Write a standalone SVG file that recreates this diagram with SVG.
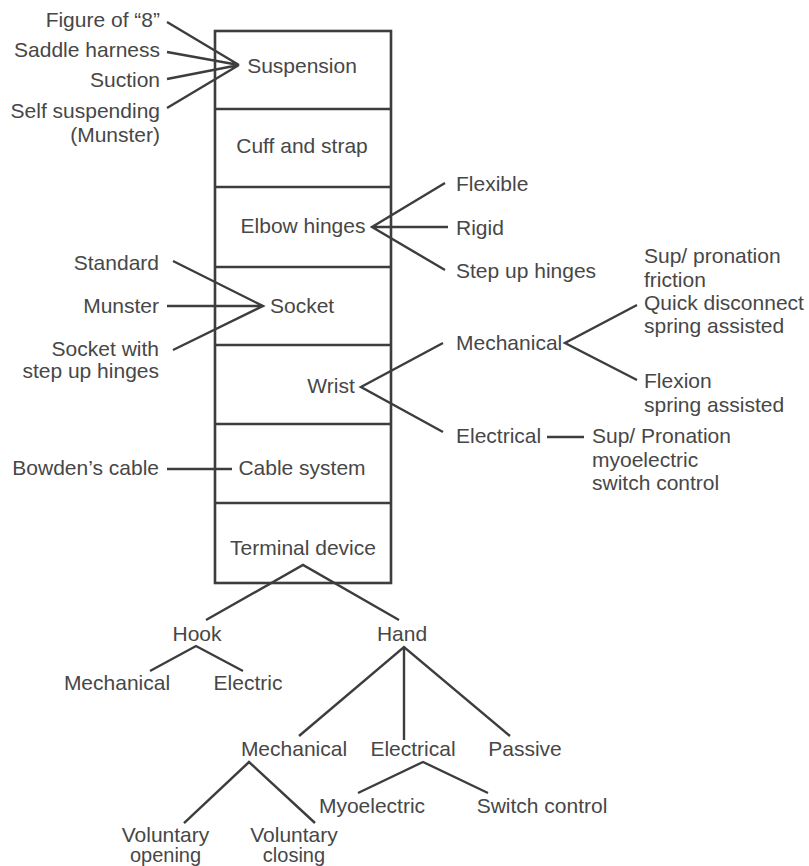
<svg xmlns="http://www.w3.org/2000/svg" width="809" height="866" viewBox="0 0 809 866">
<style>
text{font-family:"Liberation Sans",Arial,sans-serif;font-size:21px;fill:#474747}
.e{text-anchor:end}.m{text-anchor:middle}
.s{font-size:20px}
.ln{stroke:#3d3d3d;stroke-width:2.4;fill:none}
.bx{stroke:#3d3d3d;stroke-width:2.6;fill:#fff}
</style>
<rect width="809" height="866" fill="#fff"/>
<g id="box">
<rect class="bx" x="215" y="31" width="176" height="552"/>
<path class="ln" d="M215 109H391M215 187H391M215 267H391M215 345H391M215 424H391M215 503H391"/>
</g>
<g id="connectors">
<path class="ln" d="M167 22L239 65M167 52L239 65M167 79L239 65M167 108L239 65"/>
<path class="ln" d="M445 183L372 227L445 270M372 227H448"/>
<path class="ln" d="M173 261L263 306L173 350M167 306H263"/>
<path class="ln" d="M443 343L361 387L443 432"/>
<path class="ln" d="M637 305L565 343L637 380"/>
<path class="ln" d="M547 437H584"/>
<path class="ln" d="M167 469H232"/>
<path class="ln" d="M206 620L303 565L399 620"/>
<path class="ln" d="M150 671L196 646L243 671"/>
<path class="ln" d="M299 736L404 647L510 736M404 647V740"/>
<path class="ln" d="M184 823L249 762L315 823"/>
<path class="ln" d="M358 793L423 762L488 793"/>
</g>
<g id="n-suspension"><text class="m" x="302" y="73">Suspension</text></g>
<g id="n-figure8"><text class="e" x="160" y="27">Figure of “8”</text></g>
<g id="n-saddle"><text class="e" x="160" y="57">Saddle harness</text></g>
<g id="n-suction"><text class="e" x="160" y="87">Suction</text></g>
<g id="n-selfsusp"><text class="e" x="160" y="118">Self suspending</text><text class="e" x="160" y="141.5">(Munster)</text></g>
<g id="n-cuff"><text class="m" x="302" y="153">Cuff and strap</text></g>
<g id="n-elbow"><text class="m" x="303" y="233">Elbow hinges</text></g>
<g id="n-flexible"><text x="456" y="191">Flexible</text></g>
<g id="n-rigid"><text x="456" y="235">Rigid</text></g>
<g id="n-stepup"><text x="456" y="278">Step up hinges</text></g>
<g id="n-socket"><text x="270" y="313">Socket</text></g>
<g id="n-standard"><text class="e" x="159" y="270">Standard</text></g>
<g id="n-munster"><text class="e" x="159" y="313">Munster</text></g>
<g id="n-socketwith"><text class="e" x="159" y="356">Socket with</text><text class="e" x="159" y="378">step up hinges</text></g>
<g id="n-wrist"><text class="m" x="331" y="393">Wrist</text></g>
<g id="n-wmech"><text x="456" y="350">Mechanical</text></g>
<g id="n-supfric"><text x="644" y="263">Sup/ pronation</text><text x="644" y="286.5">friction</text></g>
<g id="n-quick"><text x="644" y="310">Quick disconnect</text><text x="644" y="333">spring assisted</text></g>
<g id="n-flexion"><text x="644" y="388">Flexion</text><text x="644" y="411.5">spring assisted</text></g>
<g id="n-welec"><text x="456" y="443">Electrical</text></g>
<g id="n-suppron"><text x="592" y="443">Sup/ Pronation</text><text x="592" y="466.5">myoelectric</text><text x="592" y="490">switch control</text></g>
<g id="n-cable"><text class="m" x="302" y="475">Cable system</text></g>
<g id="n-bowden"><text class="e" x="159" y="475">Bowden’s cable</text></g>
<g id="n-terminal"><text class="m" x="303" y="555">Terminal device</text></g>
<g id="n-hook"><text class="m" x="197" y="641">Hook</text></g>
<g id="n-hmech"><text class="m" x="117" y="690">Mechanical</text></g>
<g id="n-helec"><text class="m" x="248" y="690">Electric</text></g>
<g id="n-hand"><text class="m" x="402" y="641">Hand</text></g>
<g id="n-handmech"><text class="m" x="294" y="756">Mechanical</text></g>
<g id="n-handelec"><text class="m" x="413" y="756">Electrical</text></g>
<g id="n-passive"><text class="m" x="525" y="756">Passive</text></g>
<g id="n-myo"><text class="m" x="372" y="813">Myoelectric</text></g>
<g id="n-switch"><text class="m" x="542" y="813">Switch control</text></g>
<g id="n-volopen"><text class="m" x="165.5" y="842">Voluntary</text><text class="m s" x="165.5" y="862">opening</text></g>
<g id="n-volclose"><text class="m" x="294" y="842">Voluntary</text><text class="m s" x="294" y="862">closing</text></g>
</svg>
